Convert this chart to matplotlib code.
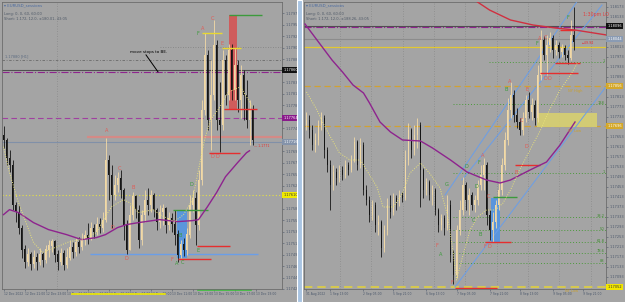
import numpy as np
import matplotlib
matplotlib.use('Agg')
import matplotlib.pyplot as plt
from matplotlib.patches import Rectangle
from matplotlib.transforms import blended_transform_factory

# ---- left chart (H1) ----
left_first_open = 1.17730
left_close = [1.17720, 1.17684, 1.17670, 1.17590, 1.17576, 1.17544, 1.17500, 1.17476, 1.17490, 1.17472,
              1.17484, 1.17476, 1.17490, 1.17480, 1.17500, 1.17508, 1.17516, 1.17490, 1.17476, 1.17492,
              1.17470, 1.17484, 1.17504, 1.17496, 1.17514, 1.17506, 1.17520, 1.17528, 1.17524, 1.17544,
              1.17536, 1.17552, 1.17544, 1.17560, 1.17680, 1.17650, 1.17610, 1.17630, 1.17644, 1.17620,
              1.17550, 1.17500, 1.17570, 1.17608, 1.17580, 1.17520, 1.17570, 1.17600, 1.17590, 1.17610,
              1.17580, 1.17556, 1.17576, 1.17584, 1.17550, 1.17564, 1.17552, 1.17530, 1.17490, 1.17510,
              1.17500, 1.17530, 1.17590, 1.17604, 1.17550, 1.17640, 1.17780, 1.17890, 1.17760, 1.17810,
              1.17910, 1.17760, 1.17750, 1.17880, 1.17810, 1.17900, 1.17820, 1.17870, 1.17800, 1.17850,
              1.17810, 1.17760, 1.17780, 1.17720]
left_high = [1.17748, 1.17724, 1.17700, 1.17680, 1.17596, 1.17590, 1.17550, 1.17510, 1.17504, 1.17496,
             1.17500, 1.17494, 1.17504, 1.17496, 1.17510, 1.17520, 1.17522, 1.17520, 1.17500, 1.17504,
             1.17500, 1.17504, 1.17520, 1.17516, 1.17524, 1.17526, 1.17534, 1.17540, 1.17554, 1.17556,
             1.17552, 1.17566, 1.17564, 1.17576, 1.17724, 1.17690, 1.17670, 1.17650, 1.17656, 1.17660,
             1.17624, 1.17560, 1.17590, 1.17616, 1.17610, 1.17590, 1.17580, 1.17620, 1.17624, 1.17620,
             1.17614, 1.17584, 1.17590, 1.17592, 1.17586, 1.17576, 1.17574, 1.17580, 1.17540, 1.17520,
             1.17524, 1.17544, 1.17610, 1.17620, 1.17616, 1.17660, 1.17800, 1.17934, 1.17900, 1.17880,
             1.17960, 1.17920, 1.17836, 1.17900, 1.17890, 1.17912, 1.17912, 1.17904, 1.17880, 1.17870,
             1.17860, 1.17840, 1.17800, 1.17790]
left_low = [1.17704, 1.17670, 1.17656, 1.17580, 1.17556, 1.17532, 1.17484, 1.17464, 1.17468, 1.17460,
            1.17464, 1.17460, 1.17470, 1.17466, 1.17474, 1.17486, 1.17496, 1.17476, 1.17460, 1.17470,
            1.17460, 1.17464, 1.17480, 1.17484, 1.17488, 1.17494, 1.17500, 1.17510, 1.17512, 1.17520,
            1.17524, 1.17530, 1.17534, 1.17536, 1.17556, 1.17600, 1.17544, 1.17600, 1.17616, 1.17604,
            1.17520, 1.17492, 1.17500, 1.17560, 1.17564, 1.17504, 1.17510, 1.17556, 1.17570, 1.17576,
            1.17566, 1.17540, 1.17544, 1.17550, 1.17534, 1.17540, 1.17536, 1.17510, 1.17476, 1.17484,
            1.17488, 1.17490, 1.17524, 1.17576, 1.17510, 1.17540, 1.17630, 1.17770, 1.17740, 1.17700,
            1.17800, 1.17740, 1.17696, 1.17740, 1.17790, 1.17800, 1.17800, 1.17800, 1.17776, 1.17764,
            1.17760, 1.17744, 1.17710, 1.17710]
left_ma_x = [0, 2, 5, 10, 15, 21, 26, 31, 34, 38, 41, 45, 52, 58, 63, 65, 68, 71, 74, 78, 81, 82]
left_ma = [1.17570, 1.17580, 1.17574, 1.17554, 1.17540, 1.17530, 1.17520, 1.17524, 1.17530, 1.17544,
           1.17550, 1.17554, 1.17560, 1.17556, 1.17558, 1.17560, 1.17586, 1.17614, 1.17646, 1.17674,
           1.17694, 1.17698]
left_fast_x = [0, 2, 5, 8, 10, 13, 18, 22, 26, 31, 34, 36, 40, 42, 45, 50, 52, 57, 60, 63, 65, 67,
               69, 72, 75, 79, 81, 83]
left_fast = [1.17706, 1.17654, 1.17594, 1.17546, 1.17514, 1.17494, 1.17506, 1.17516, 1.17520, 1.17534,
             1.17566, 1.17586, 1.17600, 1.17594, 1.17574, 1.17580, 1.17570, 1.17556, 1.17570, 1.17600,
             1.17660, 1.17720, 1.17760, 1.17784, 1.17816, 1.17826, 1.17806, 1.17786]
left_dates = ['12 Dec 2022', '12 Dec 21:00', '12 Dec 23:00', '13 Dec 01:00', '13 Dec 03:00',
              '13 Dec 05:00', '13 Dec 07:00', '13 Dec 09:00', '13 Dec 11:00', '13 Dec 13:00',
              '13 Dec 15:00', '13 Dec 17:00', '13 Dec 19:00']

# ---- right chart (H4) ----
right_first_open = 1.17700
right_close = [1.17720, 1.17680, 1.17620, 1.17640, 1.17700, 1.17728, 1.17600, 1.17540, 1.17460, 1.17512,
               1.17488, 1.17520, 1.17500, 1.17540, 1.17520, 1.17560, 1.17632, 1.17540, 1.17620, 1.17440,
               1.17400, 1.17340, 1.17380, 1.17300, 1.17312, 1.17208, 1.17280, 1.17380, 1.17352, 1.17408,
               1.17388, 1.17420, 1.17408, 1.17560, 1.17680, 1.17600, 1.17660, 1.17700, 1.17520, 1.17440,
               1.17472, 1.17420, 1.17440, 1.17360, 1.17300, 1.17328, 1.17288, 1.17380, 1.17180, 1.17100,
               1.17280, 1.17360, 1.17460, 1.17400, 1.17420, 1.17380, 1.17400, 1.17460, 1.17500, 1.17540,
               1.17340, 1.17280, 1.17312, 1.17380, 1.17440, 1.17540, 1.17640, 1.17760, 1.17820, 1.17740,
               1.17712, 1.17680, 1.17728, 1.17800, 1.17752, 1.17780, 1.17728, 1.17900, 1.18040, 1.17980,
               1.18020, 1.18048, 1.18000, 1.18020, 1.17992, 1.18008, 1.17980, 1.17968, 1.18060, 1.18032]
right_high = [1.17752, 1.17740, 1.17700, 1.17668, 1.17720, 1.17752, 1.17740, 1.17612, 1.17560, 1.17540,
              1.17528, 1.17540, 1.17536, 1.17560, 1.17552, 1.17580, 1.17652, 1.17640, 1.17648, 1.17632,
              1.17460, 1.17416, 1.17400, 1.17392, 1.17340, 1.17320, 1.17300, 1.17408, 1.17420, 1.17428,
              1.17420, 1.17440, 1.17432, 1.17600, 1.17708, 1.17688, 1.17700, 1.17728, 1.17712, 1.17528,
              1.17488, 1.17480, 1.17460, 1.17448, 1.17368, 1.17344, 1.17340, 1.17420, 1.17400, 1.17200,
              1.17300, 1.17400, 1.17492, 1.17472, 1.17448, 1.17432, 1.17420, 1.17480, 1.17540, 1.17568,
              1.17552, 1.17360, 1.17352, 1.17400, 1.17472, 1.17568, 1.17672, 1.17808, 1.17872, 1.17840,
              1.17768, 1.17728, 1.17752, 1.17820, 1.17832, 1.17808, 1.17800, 1.17940, 1.18080, 1.18056,
              1.18060, 1.18072, 1.18060, 1.18040, 1.18032, 1.18024, 1.18020, 1.18000, 1.18120, 1.18172]
right_low = [1.17680, 1.17648, 1.17600, 1.17592, 1.17620, 1.17680, 1.17568, 1.17512, 1.17360, 1.17440,
             1.17460, 1.17472, 1.17480, 1.17488, 1.17500, 1.17512, 1.17552, 1.17520, 1.17528, 1.17420,
             1.17380, 1.17312, 1.17320, 1.17272, 1.17260, 1.17172, 1.17192, 1.17260, 1.17328, 1.17340,
             1.17360, 1.17376, 1.17392, 1.17400, 1.17540, 1.17568, 1.17580, 1.17608, 1.17372, 1.17408,
             1.17420, 1.17400, 1.17380, 1.17340, 1.17272, 1.17280, 1.17260, 1.17280, 1.17152, 1.17064,
             1.17088, 1.17260, 1.17340, 1.17360, 1.17340, 1.17360, 1.17352, 1.17380, 1.17440, 1.17440,
             1.17300, 1.17240, 1.17232, 1.17288, 1.17360, 1.17420, 1.17520, 1.17620, 1.17728, 1.17712,
             1.17688, 1.17660, 1.17660, 1.17712, 1.17728, 1.17720, 1.17700, 1.17712, 1.17880, 1.17960,
             1.17900, 1.17992, 1.17968, 1.17980, 1.17968, 1.17972, 1.17960, 1.17944, 1.17960, 1.18000]
right_ma_x = [-0.5, 1, 8.5, 12, 15.5, 19, 21, 24.5, 28, 32, 38, 42, 48, 53.5, 60, 64.5, 68, 74.5, 80,
              84.5, 89.5]
right_ma = [1.18104, 1.18080, 1.17960, 1.17912, 1.17860, 1.17828, 1.17788, 1.17712, 1.17672, 1.17640,
            1.17636, 1.17608, 1.17560, 1.17512, 1.17480, 1.17468, 1.17480, 1.17520, 1.17552, 1.17620,
            1.17712]
right_slow_x = [57, 61, 68, 75.5, 83, 89.5, 100]
right_slow = [1.18192, 1.18160, 1.18120, 1.18100, 1.18088, 1.18080, 1.18060]
right_fast_x = [0, 3.5, 5.5, 8, 11, 14.5, 18, 20, 23.5, 25.5, 29, 32, 34.5, 38, 41, 44.5, 47, 49, 50,
                52, 54.5, 57, 60, 63, 65.5, 68, 71, 74.5, 78, 81, 84.5, 88, 90.5]
right_fast = [1.17832, 1.17760, 1.17708, 1.17652, 1.17588, 1.17560, 1.17560, 1.17520, 1.17452, 1.17372,
              1.17372, 1.17428, 1.17508, 1.17548, 1.17508, 1.17448, 1.17340, 1.17180, 1.17080, 1.17172,
              1.17280, 1.17332, 1.17360, 1.17360, 1.17388, 1.17440, 1.17520, 1.17600, 1.17680, 1.17760,
              1.17840, 1.17900, 1.17952]
fib_levels = [1.17952, 1.17784, 1.17508, 1.17332, 1.17280, 1.17232, 1.17188, 1.17148]
fib_labels = ['1', '138', '1', '38.2', '50', '61.8', '78.6', '88']
right_dates = ['31 Aug 2022', '1 Sep 13:00', '2 Sep 05:00', '5 Sep 21:00', '6 Sep 13:00',
               '7 Sep 05:00', '7 Sep 21:00', '8 Sep 13:00', '9 Sep 05:00', '9 Sep 21:00']

# price tags on the scale (price, fill colour, text colour)
left_tags = [(1.17860, '#111111', 'white'), (1.17764, '#8a1a8a', 'white'),
             (1.17716, '#8493aa', 'white'), (1.17610, '#f0ea00', '#333333')]
right_tags = [(1.18096, '#111111', 'white'), (1.18044, '#8a9bb3', 'white'),
              (1.17856, '#d4a82a', 'white'), (1.17696, '#d4a82a', 'white'),
              (1.17052, '#f2e600', '#333333')]

BG = '#a4a4a4'
BULL = '#f2d9a6'
BEAR = '#151515'
RED_TXT = '#e25a55'
GRN_TXT = '#3a9a3a'
RED = '#e62e2e'
GREEN = '#3c9a3c'
PURPLE = '#8e248e'
TICK = '#4b586c'
FS = 2.5   # price scale label size


def candles(ax, first_open, closes, highs, lows):
    c = np.array(closes)
    o = np.concatenate([[first_open], c[:-1]])
    h = np.array(highs)
    l = np.array(lows)
    x = np.arange(len(c))
    up = c >= o
    for m, col in ((up, BULL), (~up, BEAR)):
        ax.vlines(x[m], l[m], h[m], color=col, lw=0.6, zorder=4)
        ax.bar(x[m], np.abs(c - o)[m] + 2e-6, bottom=np.minimum(o, c)[m], width=0.62,
               color=col, lw=0, zorder=5)


def price_box(ax, price, fc, tc='white'):
    tr = blended_transform_factory(ax.transAxes, ax.transData)
    ax.text(1.004, price, f'{price:.5f}', transform=tr, fontsize=FS, color=tc, va='center',
            ha='left', clip_on=False, zorder=12,
            bbox=dict(boxstyle='square,pad=0.25', fc=fc, ec='none'))


def letters(ax, items, color):
    for x, y, t in items:
        ax.text(x, y, t, color=color, fontsize=3.6, ha='center', va='center', zorder=9)


def style(ax, ylim, xlim, yticks, xticks, xlabels):
    ax.set_facecolor(BG)
    ax.set_ylim(*ylim)
    ax.set_xlim(*xlim)
    ax.yaxis.tick_right()
    ax.set_yticks(yticks)
    ax.set_yticklabels([f'{t:.5f}' for t in yticks])
    ax.set_xticks(xticks)
    ax.set_xticklabels(xlabels, ha='left')
    ax.tick_params(axis='both', labelsize=FS, colors=TICK, length=1.5, width=0.4, pad=0.8)
    ax.tick_params(axis='x', labelsize=2.15)
    for s in ax.spines.values():
        s.set_color('#6c6c6c')
        s.set_linewidth(0.6)


def free_ticks(ticks, tags, gap):
    # a tag on the scale hides the tick label under it
    return [t for t in ticks if all(abs(t - p) > gap for p, _, _ in tags)]


fig = plt.figure(figsize=(6.25, 3.02), dpi=100, facecolor=BG)

# ================= left panel =================
axl = fig.add_axes([2 / 625, 13 / 302, 280 / 625, 287 / 302])
style(axl, (1.17422, 1.17996), (-0.5, 92.83),
      free_ticks([1.17973 - 0.00023 * k for k in range(25)], left_tags, 0.00012),
      [7 * k for k in range(13)], left_dates)

axl.axvline(17.8, color='#8a8a8a', ls=(0, (1, 2)), lw=0.6, zorder=1)
axl.axhline(1.17860, color='#505050', lw=0.8, zorder=2)
axl.axhline(1.17856, color=PURPLE, ls='-.', lw=0.8, zorder=2)
axl.axhline(1.17880, color='#6a6a6a', ls=(0, (3, 2, 1, 2)), lw=0.6, zorder=2)
axl.hlines(1.17906, 52, 92.83, color='#808080', ls=(0, (1, 2)), lw=0.6, zorder=2)
axl.axhline(1.17764, color='#a040a0', ls=(0, (5, 3)), lw=0.8, zorder=2)
axl.axhline(1.17716, color='#8090a8', lw=0.8, zorder=2)
axl.hlines(1.17726, 27.8, 92.83, color='#d48a86', lw=1.6, zorder=2)
axl.axhline(1.17610, color='#e6e040', ls=(0, (1, 2)), lw=0.8, zorder=2)
axl.hlines(1.17492, 28.8, 84.8, color='#6a9ee8', lw=1.0, zorder=3)

axl.add_patch(Rectangle((75.2, 1.17782), 2.6, 0.00188, fc='#cf5c5c', ec='none', zorder=3))
axl.add_patch(Rectangle((57.8, 1.17484), 3.4, 0.00096, fc='#5a96dc', ec='none', zorder=3))
axl.hlines(1.17970, 75.2, 86.2, color=GREEN, lw=1.0, zorder=6)
axl.hlines(1.17782, 73.5, 84.5, color=RED, lw=1.0, zorder=6)
axl.hlines(1.17934, 66.2, 72.8, color='#e8d830', lw=1.0, zorder=6)
axl.hlines(1.17904, 72.8, 79.2, color='#e8d830', lw=1.0, zorder=6)
axl.hlines(1.17694, 68.5, 78.8, color=RED, lw=1.0, zorder=6)
axl.hlines(1.17580, 56.5, 68.2, color=GREEN, lw=1.0, zorder=6)
axl.hlines(1.17508, 64.5, 75.5, color=RED, lw=1.0, zorder=6)
axl.hlines(1.17482, 58.2, 69.2, color=RED, lw=1.0, zorder=6)

candles(axl, left_first_open, left_close, left_high, left_low)
axl.plot(left_ma_x, left_ma, color=PURPLE, lw=1.0, zorder=6)
axl.plot(left_fast_x, left_fast, color='#e8e27a', ls=(0, (1, 1.5)), lw=0.7, zorder=6)

axl.plot([47.5, 51.5], [1.17890, 1.17856], color='black', lw=0.7, zorder=8)
axl.text(42.2, 1.17896, 'move stops to BE.', fontsize=3.0, color='black', va='center', zorder=9)
axl.text(0.5, 1.17888, '1.17880 [H1]', fontsize=2.5, color='#5a6a80', va='center', zorder=9)
axl.text(83.5, 1.17708, '\u2014 1.1771', fontsize=2.3, color=RED, va='center', zorder=9)
axl.text(0.008, 0.995, '\u25be EURUSD_sessions', transform=axl.transAxes, fontsize=2.8,
         color='#4a6aa0', va='top')
axl.text(0.008, 0.965, 'Long: 0, 0, 60, 60:00\nShort: 1.172, 12.0, \u00b1180.01, 43:05',
         transform=axl.transAxes, fontsize=2.6, color='#505a68', va='top', linespacing=1.2)

letters(axl, [(34.5, 1.17738, 'A'), (38.5, 1.17662, 'C'), (43.2, 1.17624, 'B'),
              (36.2, 1.17544, 'D'), (40.8, 1.17482, 'D'), (66.5, 1.17942, 'A'),
              (69.5, 1.17962, 'C'), (72.8, 1.17912, 'E'), (56.2, 1.17480, 'F'),
              (69.5, 1.17686, 'D'), (71.2, 1.17686, 'D')], RED_TXT)
letters(axl, [(64.8, 1.17932, 'F'), (62.5, 1.17630, 'D'), (58.8, 1.17528, 'B'),
              (64.8, 1.17498, 'E'), (57.8, 1.17472, 'A'), (59.8, 1.17474, 'C')], GRN_TXT)

for p, fc, tc in left_tags:
    price_box(axl, p, fc, tc)

btr = blended_transform_factory(axl.transData, axl.transAxes)
axl.plot([22.8, 53.8], [-0.018, -0.018], color='#f0ec00', lw=1.2, transform=btr, clip_on=False)
axl.plot([64.8, 82.5], [-0.004, -0.004], color='#3cc03c', lw=1.2, transform=btr, clip_on=False)

# ================= right panel =================
axr = fig.add_axes([304 / 625, 13 / 302, 302 / 625, 287 / 302])
style(axr, (1.17044, 1.18192), (-0.83, 99.83),
      free_ticks([1.18173 - 0.0004 * k for k in range(29)], right_tags, 0.00022),
      [0, 8, 19, 29, 40, 50, 61, 71, 82, 92], right_dates)

for gx in (11.2, 21.5, 32.2, 42.5, 52.8, 63.5, 73.8, 84.2, 94.8):
    axr.axvline(gx, color='#8a8a8a', ls=(0, (1, 2)), lw=0.6, zorder=1)

axr.axhline(1.18096, color='#505050', lw=0.8, zorder=2)
axr.axhline(1.18092, color=PURPLE, ls='-.', lw=0.8, zorder=2)
axr.axhline(1.18044, color='#8c8c8c', lw=0.8, zorder=2)
axr.axhline(1.18012, color='#e2c832', lw=0.9, zorder=2)
axr.axhline(1.17856, color='#cfa235', ls=(0, (5, 3)), lw=0.9, zorder=2)
axr.axhline(1.17696, color='#cfa235', ls=(0, (5, 3)), lw=0.9, zorder=2)
axr.axhline(1.17052, color='#e0d040', ls=(0, (5, 3)), lw=1.2, zorder=2)
for k, lev in enumerate(fib_levels):
    start = 60.8 if k == 0 else 48.8
    axr.hlines(lev, start, 99.83, color='#4c9a3c', ls=(0, (1, 2)), lw=0.7, zorder=2)
    axr.text(99.3, lev + 0.00006, fib_labels[k], fontsize=2.6, color='#3c8a2c', ha='right',
             va='center', zorder=9)

axr.add_patch(Rectangle((76.8, 1.17692), 20.0, 0.00056, fc='#d8d070', ec='none', alpha=0.9,
                        zorder=3))
axr.add_patch(Rectangle((61.5, 1.17232), 3.0, 0.00176, fc='#5a96dc', ec='none', zorder=3))
axr.hlines(1.17412, 62.2, 70.2, color=GREEN, lw=1.0, zorder=6)
axr.hlines(1.17232, 59.5, 68.2, color=RED, lw=1.0, zorder=6)
axr.hlines(1.17048, 49.5, 63.5, color=RED, lw=1.0, zorder=6)
axr.hlines(1.17540, 69.5, 77.8, color=RED, lw=1.0, zorder=6)
axr.hlines(1.17908, 77.8, 90.5, color=RED, lw=1.0, zorder=6)
axr.hlines(1.17948, 82.8, 91.2, color=RED, lw=1.0, zorder=6)
axr.hlines(1.18080, 84.5, 89.5, color=RED, lw=1.0, zorder=6)

for xs, ys in (([49.5, 99.5], [1.17052, 1.17848]), ([46.2, 90.5], [1.17420, 1.18200]),
               ([51.8, 98.5], [1.17480, 1.18180])):
    axr.plot(xs, ys, color='#6a9ee8', lw=0.7, zorder=3)

candles(axr, right_first_open, right_close, right_high, right_low)
axr.plot(right_ma_x, right_ma, color=PURPLE, lw=1.0, zorder=6)
axr.plot(right_slow_x, right_slow, color='#d03040', lw=1.0, zorder=6)
axr.plot(right_fast_x, right_fast, color='#e8e27a', ls=(0, (1, 1.5)), lw=0.7, zorder=6)

axr.text(92.0, 1.18144, '1:30pm LO', fontsize=3.4, color='#e04040', ha='left', va='center',
         zorder=9)
axr.text(91.8, 1.18030, '\u219049.94', fontsize=2.3, color=RED, va='center', zorder=9)
axr.text(87.0, 1.17845, 'NY High', fontsize=2.6, color='#c8a030', va='top', zorder=9)
axr.text(87.0, 1.17685, 'NY Low', fontsize=2.6, color='#c8a030', va='top', zorder=9)
axr.text(86.0, 1.17044, 'NY Low', fontsize=2.6, color='#c8a030', va='top', zorder=9,
         clip_on=False)
axr.text(0.008, 0.995, '\u25be EURUSD_sessions', transform=axr.transAxes, fontsize=2.8,
         color='#4a6aa0', va='top')
axr.text(0.008, 0.965, 'Long: 0, 0, 60, 60:00\nShort: 1.172, 12.0, \u00b1188.26, 43:05',
         transform=axr.transAxes, fontsize=2.6, color='#505a68', va='top', linespacing=1.2)

letters(axr, [(43.5, 1.17220, 'F'), (48.5, 1.17068, 'F'), (58.8, 1.17580, 'A'),
              (60.8, 1.17412, 'C'), (59.5, 1.17212, 'F'), (60.8, 1.17212, 'D'),
              (69.8, 1.17512, 'B'), (73.2, 1.17616, 'D'), (67.8, 1.17876, 'A'),
              (73.5, 1.17844, 'E'), (71.8, 1.17720, 'C'), (77.8, 1.18048, 'A'),
              (79.8, 1.18052, 'C'), (79.5, 1.17884, 'D'), (80.8, 1.17884, 'D')], RED_TXT)
letters(axr, [(46.8, 1.17464, 'G'), (44.8, 1.17180, 'A'), (57.5, 1.17548, 'F'),
              (53.2, 1.17536, 'D'), (56.5, 1.17452, 'D'), (55.5, 1.17316, 'C'),
              (57.8, 1.17260, 'B'), (66.5, 1.17844, 'B'), (76.8, 1.18028, 'F'),
              (87.2, 1.18132, 'F')], GRN_TXT)

for p, fc, tc in right_tags:
    price_box(axr, p, fc, tc)

# divider between the two chart windows
fig.patches.append(Rectangle((297 / 625, 0), 5 / 625, 1, transform=fig.transFigure,
                             fc='#a9c4e2', ec='white', lw=0.8, zorder=20))

fig.savefig('out.png', dpi=100, facecolor=BG)
